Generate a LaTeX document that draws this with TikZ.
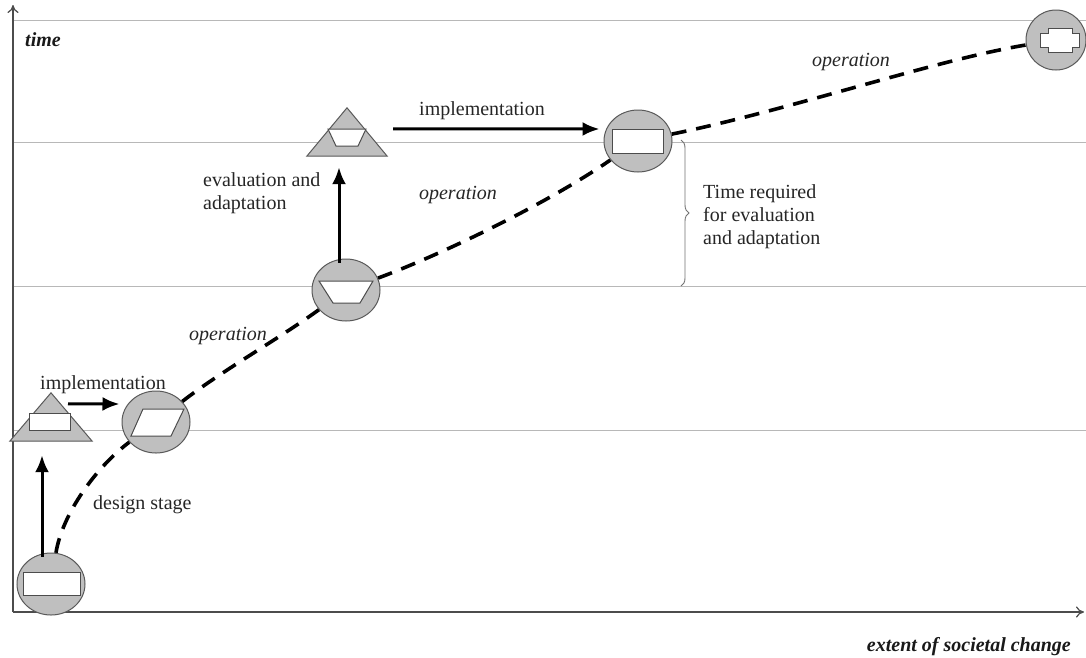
\documentclass[tikz,border=0pt]{standalone}
\usepackage{fontspec}
\setmainfont{Liberation Serif}
\usetikzlibrary{arrows.meta,shapes.geometric,decorations.pathreplacing,calc}
\pgfdeclarelayer{bg}
\pgfsetlayers{bg,main}

\begin{document}
\begin{tikzpicture}[x=1pt,y=-1pt,
  gridline/.style={draw=black!28, line width=0.9pt},
  axis/.style={draw=black!70, line width=1.2pt, -{To[length=8pt,width=11pt]}},
  stagecircle/.style={ellipse, draw=black!65, fill=black!25, line width=1pt,
    minimum width=68pt, minimum height=62pt, inner sep=0pt},
  stagetri/.style={draw=none, minimum width=82pt, minimum height=48pt, inner sep=0pt},
  trifill/.style={draw=black!65, fill=black!25, line width=1pt},
  innershape/.style={draw=black!70, fill=white, line width=1pt},
  flow/.style={draw=black, line width=3pt, -{Latex[length=17pt,width=14pt]}},
  opline/.style={draw=black, line width=3.6pt, dash pattern=on 15pt off 10pt},
  lbl/.style={text=black!85, font=\fontsize{20}{23}\selectfont, inner sep=0pt},
  oplbl/.style={text=black!85, font=\fontsize{20}{23}\selectfont\itshape, inner sep=0pt},
  axlbl/.style={text=black!90, font=\fontsize{20}{23}\selectfont\bfseries\itshape, inner sep=0pt},
  bracestyle/.style={draw=black!55, line width=0.9pt, decorate,
    decoration={brace, amplitude=8pt}},
]
\path[use as bounding box] (0,0) rectangle (1086,657);

% stages
\node[stagecircle] (c1) at (51,584) {};
\node[stagetri] (t1) at (51,417) {};
\node[stagecircle] (c3) at (156,422) {};
\node[stagecircle] (c4) at (346,290) {};
\node[stagetri, minimum width=80pt] (t2) at (347,132) {};
\node[stagecircle] (c6) at (638,141) {};
\node[stagecircle, minimum width=60pt, minimum height=60pt] (c7) at (1056,40) {};

\draw[trifill] (t1.south west) -- (t1.north) -- (t1.south east) -- cycle;
\draw[trifill] (t2.south west) -- (t2.north) -- (t2.south east) -- cycle;

% symbols inside the stages
\draw[innershape, shift={(c1.center)}] (-28,-12) rectangle (29,11);
\draw[innershape, shift={(t1.center)}] (-22,-4) rectangle (19,13);
\draw[innershape, shift={(c3.center)}] (-25,14) -- (-13,-13) -- (28,-13) -- (15,14) -- cycle;
\draw[innershape, shift={(c4.center)}] (-27,-9) -- (27,-9) -- (14,13) -- (-13,13) -- cycle;
\draw[innershape, shift={(t2.center)}] (-19,-3) -- (19,-3) -- (11,14) -- (-11,14) -- cycle;
\draw[innershape, shift={(c6.center)}] (-26,-12) rectangle (25,12);
\draw[innershape, shift={(c7.center)}] (-16,-7) -- (-8,-7) -- (-8,-12) -- (16,-12) -- (16,-7)
  -- (23,-7) -- (23,7) -- (16,7) -- (16,12) -- (-8,12) -- (-8,7) -- (-16,7) -- cycle;

% grid, axes and operation curve behind the stages
\coordinate (o) at (13,612);
\begin{pgfonlayer}{bg}
  \fill[white] (0,0) rectangle (1086,657);
  \foreach \yy in {20,142,286,430}
    \draw[gridline] (13,\yy) -- (1086,\yy);
  \draw[axis] (o) -- (13,5);
  \draw[axis] (o) -- (1084,612);
  \draw[opline] (c1) .. controls (62,515) and (95,468) .. (c3);
  \draw[opline] (c3) .. controls (220,372) and (280,338) .. (c4);
  \draw[opline] (c4) .. controls (440,255) and (545,205) .. (c6);
  \draw[opline] (c6) .. controls (790,110) and (935,60) .. (c7);
\end{pgfonlayer}

% transitions
\draw[flow] ($(c1.north)+(-9,4)$) -- ($(t1.south)+(-9,14)$);
\draw[flow] ($(t1.north)+(17,11)$) -- ($(c3.west)+(-2,-18)$);
\draw[flow] ($(c4.north)+(-7,4)$) -- ($(t2.south)+(-8,11)$);
\draw[flow] ($(t2.north)+(46,21)$) -- ($(c6.west)+(-4,-12)$);

% brace for the evaluation period
\coordinate (b1) at (681,140);
\coordinate (b2) at (681,286);
\draw[bracestyle] (b1) -- (b2);

% labels
\node[axlbl, anchor=west] (ylab) at (25,40) {time};
\node[axlbl, anchor=east] (xlab) at (1071,647) {extent of societal change};
\node[lbl, anchor=west] (ds) at (93,505) {design stage};
\node[lbl] (imp1) at (103,385) {implementation};
\node[lbl] (imp2) at (482,111) {implementation};
\node[lbl, anchor=west, align=left] (ea) at (203,193) {evaluation and\\adaptation};
\node[oplbl] (op1) at (228,336) {operation};
\node[oplbl] (op2) at (458,195) {operation};
\node[oplbl] (op3) at (851,62) {operation};
\node[lbl, anchor=west, align=left] (tr) at (703,217) {Time required\\for evaluation\\and adaptation};
\end{tikzpicture}
\end{document}
